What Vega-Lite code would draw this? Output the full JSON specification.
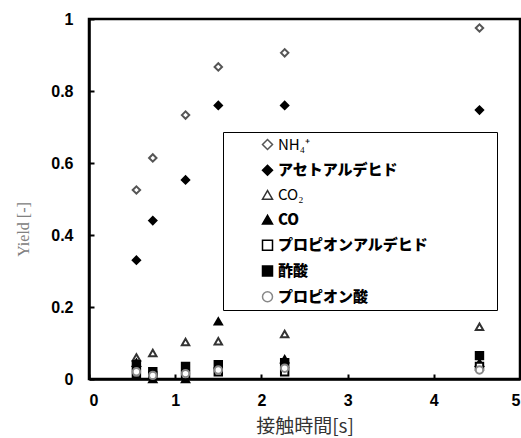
{
  "$schema": "https://vega.github.io/schema/vega-lite/v6.json",
  "width": 431,
  "height": 360,
  "autosize": {"type": "none"},
  "padding": {"left": 89, "top": 19, "right": 1, "bottom": 59},
  "background": "white",
  "config": {
    "view": {"stroke": "black", "strokeWidth": 2.5},
    "axis": {"grid": false, "domainColor": "black", "domainWidth": 2.5, "tickColor": "black", "tickWidth": 2, "tickSize": -5, "labelFont": "Liberation Sans", "labelFontWeight": "bold", "labelFontSize": 16, "labelColor": "black"}
  },
  "data": {"values": [
    {"t": 0.55, "y": 0.525, "s": "NH₄⁺"},
    {"t": 0.74, "y": 0.614, "s": "NH₄⁺"},
    {"t": 1.12, "y": 0.733, "s": "NH₄⁺"},
    {"t": 1.5, "y": 0.867, "s": "NH₄⁺"},
    {"t": 2.27, "y": 0.906, "s": "NH₄⁺"},
    {"t": 4.53, "y": 0.975, "s": "NH₄⁺"},
    {"t": 0.55, "y": 0.33, "s": "アセトアルデヒド"},
    {"t": 0.74, "y": 0.44, "s": "アセトアルデヒド"},
    {"t": 1.12, "y": 0.553, "s": "アセトアルデヒド"},
    {"t": 1.5, "y": 0.76, "s": "アセトアルデヒド"},
    {"t": 2.27, "y": 0.76, "s": "アセトアルデヒド"},
    {"t": 4.53, "y": 0.747, "s": "アセトアルデヒド"},
    {"t": 0.55, "y": 0.06, "s": "CO₂"},
    {"t": 0.74, "y": 0.072, "s": "CO₂"},
    {"t": 1.12, "y": 0.103, "s": "CO₂"},
    {"t": 1.5, "y": 0.105, "s": "CO₂"},
    {"t": 2.27, "y": 0.125, "s": "CO₂"},
    {"t": 4.53, "y": 0.145, "s": "CO₂"},
    {"t": 0.55, "y": 0.045, "s": "CO"},
    {"t": 0.74, "y": 0.0, "s": "CO"},
    {"t": 1.12, "y": 0.0, "s": "CO"},
    {"t": 1.5, "y": 0.16, "s": "CO"},
    {"t": 2.27, "y": 0.055, "s": "CO"},
    {"t": 4.53, "y": 0.045, "s": "CO"},
    {"t": 0.55, "y": 0.015, "s": "プロピオンアルデヒド"},
    {"t": 0.74, "y": 0.01, "s": "プロピオンアルデヒド"},
    {"t": 1.12, "y": 0.01, "s": "プロピオンアルデヒド"},
    {"t": 1.5, "y": 0.02, "s": "プロピオンアルデヒド"},
    {"t": 2.27, "y": 0.02, "s": "プロピオンアルデヒド"},
    {"t": 4.53, "y": 0.035, "s": "プロピオンアルデヒド"},
    {"t": 0.55, "y": 0.04, "s": "酢酸"},
    {"t": 0.74, "y": 0.02, "s": "酢酸"},
    {"t": 1.12, "y": 0.035, "s": "酢酸"},
    {"t": 1.5, "y": 0.04, "s": "酢酸"},
    {"t": 2.27, "y": 0.045, "s": "酢酸"},
    {"t": 4.53, "y": 0.065, "s": "酢酸"},
    {"t": 0.55, "y": 0.02, "s": "プロピオン酸"},
    {"t": 0.74, "y": 0.01, "s": "プロピオン酸"},
    {"t": 1.12, "y": 0.015, "s": "プロピオン酸"},
    {"t": 1.5, "y": 0.025, "s": "プロピオン酸"},
    {"t": 2.27, "y": 0.03, "s": "プロピオン酸"},
    {"t": 4.53, "y": 0.025, "s": "プロピオン酸"}
  ]},
  "mark": {"type": "point", "filled": true, "size": 55, "strokeWidth": 2, "opacity": 1},
  "encoding": {
    "x": {"field": "t", "type": "quantitative", "scale": {"domain": [0, 5], "nice": false},
      "axis": {"values": [0, 1, 2, 3, 4, 5], "format": "~g", "labelPadding": 18, "title": "接触時間[s]", "titleFont": "Noto Sans CJK JP", "titleFontWeight": "normal", "titleFontSize": 19, "titleColor": "#333", "titleY": 47, "titleBaseline": "middle"}},
    "y": {"field": "y", "type": "quantitative", "scale": {"domain": [0, 1], "nice": false},
      "axis": {"values": [0, 0.2, 0.4, 0.6, 0.8, 1], "format": "~g", "labelPadding": 21, "title": "Yield [-]", "titleFont": "Liberation Serif", "titleFontWeight": "normal", "titleFontSize": 16, "titleColor": "#808080", "titleX": -66, "titleY": 210, "titleAngle": -90, "titleAlign": "center", "titleBaseline": "middle"}},
    "shape": {"field": "s", "type": "nominal",
      "scale": {"domain": ["NH₄⁺", "アセトアルデヒド", "CO₂", "CO", "プロピオンアルデヒド", "酢酸", "プロピオン酸"],
        "range": ["diamond", "diamond", "triangle-up", "triangle-up", "square", "square", "circle"]},
      "legend": {"title": " ", "titleOrient": "right", "titlePadding": 64, "titleFontSize": 10, "orient": "none", "legendX": 134, "legendY": 113, "strokeColor": "black", "padding": 5, "fillColor": "white",
        "labelFont": "Noto Sans CJK JP", "labelFontSize": 15, "labelColor": "black", "symbolOffset": 32, "labelOffset": 3, "rowPadding": 8.7, "labelLimit": 300,
        "labelFontWeight": {"expr": "datum.label === 'NH₄⁺' || datum.label === 'CO₂' ? 'normal' : 900"},
        "encode": {"legend": {"update": {"strokeWidth": {"value": 2.5}}}}}},
    "fill": {"field": "s", "type": "nominal",
      "scale": {"domain": ["NH₄⁺", "アセトアルデヒド", "CO₂", "CO", "プロピオンアルデヒド", "酢酸", "プロピオン酸"],
        "range": ["white", "black", "white", "black", "white", "black", "white"]}},
    "stroke": {"field": "s", "type": "nominal",
      "scale": {"domain": ["NH₄⁺", "アセトアルデヒド", "CO₂", "CO", "プロピオンアルデヒド", "酢酸", "プロピオン酸"],
        "range": ["#555555", "black", "#333333", "black", "black", "black", "#888888"]}}
  }
}
